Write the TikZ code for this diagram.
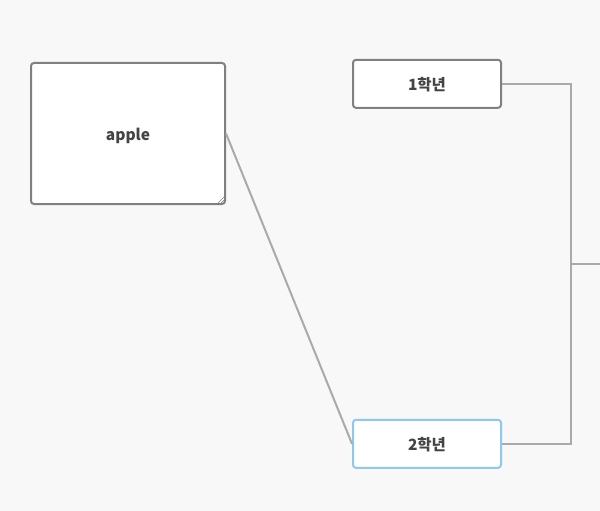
\documentclass[tikz,border=0pt]{standalone}
\usepackage{fontspec}
\setmainfont{Noto Sans CJK KR}
\definecolor{bgcol}{HTML}{F8F8F8}
\definecolor{boxline}{HTML}{808080}
\definecolor{selline}{HTML}{8EC8EC}
\definecolor{linkcol}{HTML}{AAAAAA}
\definecolor{txtcol}{HTML}{444444}
\tikzset{
  card/.style={draw=boxline, line width=2pt, fill=white, rounded corners=3pt,
    text=txtcol, font=\fontsize{15.5}{17}\selectfont\bfseries, inner sep=0pt,
    text height=13pt, text depth=0pt},
  link/.style={draw=linkcol, line width=2pt}
}
\begin{document}
\begin{tikzpicture}[x=1pt,y=-1pt]
  \fill[bgcol] (0,0) rectangle (600,511);
  \useasboundingbox (0,0) rectangle (600,511);
  \node[card, minimum width=194pt, minimum height=141pt] (apple) at (128,133.5) {apple};
  \node[card, minimum width=148pt, minimum height=48pt] (grade1) at (427,83.8) {1학년};
  \node[card, draw=selline, minimum width=148pt, minimum height=48pt] (grade2) at (427,443.8) {2학년};
  \coordinate (trunk) at (571,264);
  \coordinate (out) at (600,264);
  % resize grip
  \draw[boxline, line width=0.6pt] ([shift={(-8,-2)}]apple.south east) -- ([shift={(-2,-8)}]apple.south east);
  \draw[boxline, line width=0.6pt] ([shift={(-5,-2)}]apple.south east) -- ([shift={(-2,-5)}]apple.south east);
  \draw[link] (apple.east) -- (grade2.west);
  \draw[link] (grade1.east) -| (trunk) |- (grade2.east);
  \draw[link] (trunk) -- (out);
\end{tikzpicture}
\end{document}
